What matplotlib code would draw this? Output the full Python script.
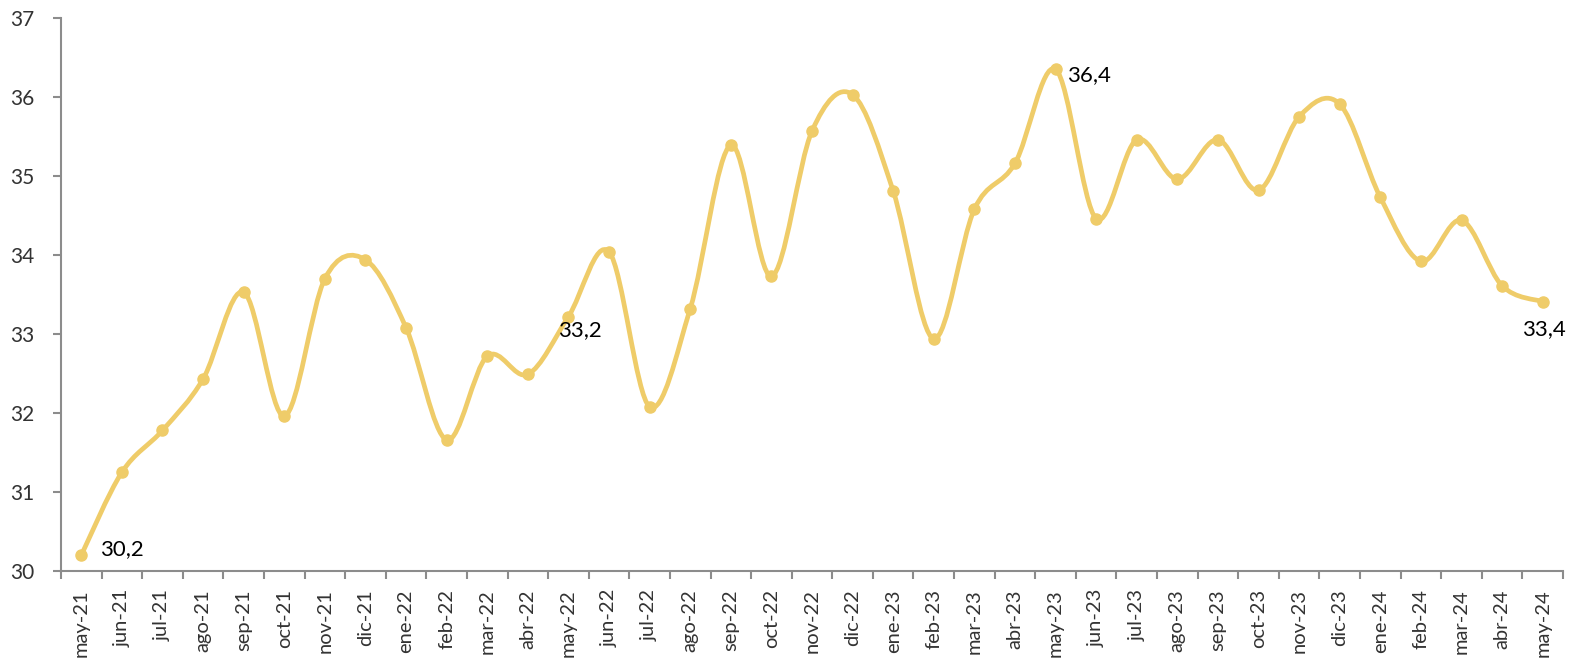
import matplotlib
matplotlib.use("Agg")
import matplotlib.pyplot as plt
from matplotlib.path import Path
from matplotlib.patches import PathPatch
import numpy as np

plt.rcParams['font.family'] = ['Lato', 'DejaVu Sans']

months = ["may-21", "jun-21", "jul-21", "ago-21", "sep-21", "oct-21", "nov-21", "dic-21",
          "ene-22", "feb-22", "mar-22", "abr-22", "may-22", "jun-22", "jul-22", "ago-22",
          "sep-22", "oct-22", "nov-22", "dic-22", "ene-23", "feb-23", "mar-23", "abr-23",
          "may-23", "jun-23", "jul-23", "ago-23", "sep-23", "oct-23", "nov-23", "dic-23",
          "ene-24", "feb-24", "mar-24", "abr-24", "may-24"]
values = [30.2, 31.25, 31.78, 32.43, 33.53, 31.96, 33.70, 33.94,
          33.08, 31.66, 32.72, 32.49, 33.22, 34.04, 32.08, 33.32,
          35.39, 33.73, 35.57, 36.03, 34.81, 32.94, 34.58, 35.16,
          36.35, 34.46, 35.46, 34.96, 35.46, 34.82, 35.75, 35.91,
          34.73, 33.92, 34.44, 33.61, 33.41]
label_idx = [0, 12, 24, 36]
label_txt = ["30,2", "33,2", "36,4", "33,4"]
yticks = [30, 31, 32, 33, 34, 35, 36, 37]

color = "#EFCC69"
axis_gray = "#8C8C8C"
text_col = "#333333"

fig = plt.figure(figsize=(15.72, 6.67), dpi=100)
ax = fig.add_axes([61/1572, 1-571/667, (1563-61)/1572, (571-18)/667])

x = np.arange(len(values), dtype=float)
y = np.array(values, dtype=float)

# Excel-style smoothed line: cubic Bezier with Catmull-Rom control points
verts = [(x[0], y[0])]
codes = [Path.MOVETO]
n = len(x)
for i in range(n - 1):
    p0 = np.array([x[max(i-1, 0)], y[max(i-1, 0)]])
    p1 = np.array([x[i], y[i]])
    p2 = np.array([x[i+1], y[i+1]])
    p3 = np.array([x[min(i+2, n-1)], y[min(i+2, n-1)]])
    c1 = p1 + (p2 - p0) / 6.0
    c2 = p2 - (p3 - p1) / 6.0
    verts += [tuple(c1), tuple(c2), tuple(p2)]
    codes += [Path.CURVE4, Path.CURVE4, Path.CURVE4]
path = Path(verts, codes)
ax.add_patch(PathPatch(path, facecolor="none", edgecolor=color, lw=3.4,
                       capstyle="round", joinstyle="round", zorder=2))
ax.plot(x, y, linestyle="none", marker="o", markersize=8, color=color, zorder=3)

offsets = {0: (19, 6, "left", "center"),
           12: (11, -13, "center", "center"),
           24: (11, -6, "left", "center"),
           36: (1, -27, "center", "center")}
for i, t in zip(label_idx, label_txt):
    dx, dy, ha, va = offsets[i]
    ax.annotate(t, (x[i], y[i]), xytext=(dx, dy), textcoords="offset pixels",
                ha=ha, va=va, fontsize=16, color="black", zorder=4)

ax.set_xlim(-0.5, n - 0.5)
ax.set_ylim(30, 37)
ax.set_yticks(yticks)
ax.set_yticklabels([str(v) for v in yticks])
ax.set_xticks(np.arange(n + 1) - 0.5)
ax.set_xticklabels([])
ax.set_xticks(x, minor=True)
ax.set_xticklabels(months, minor=True, rotation=90)
ax.tick_params(axis="x", which="major", direction="out", length=6, width=1.5, color=axis_gray)
ax.tick_params(axis="x", which="minor", length=0, pad=13, labelsize=14.5, labelcolor=text_col)
ax.tick_params(axis="y", direction="out", length=6, width=1.5, color=axis_gray,
               pad=13, labelsize=15, labelcolor=text_col)

for s in ["top", "right"]:
    ax.spines[s].set_visible(False)
for s in ["left", "bottom"]:
    ax.spines[s].set_color(axis_gray)
    ax.spines[s].set_linewidth(1.5)

fig.savefig("out.png", dpi=100)
